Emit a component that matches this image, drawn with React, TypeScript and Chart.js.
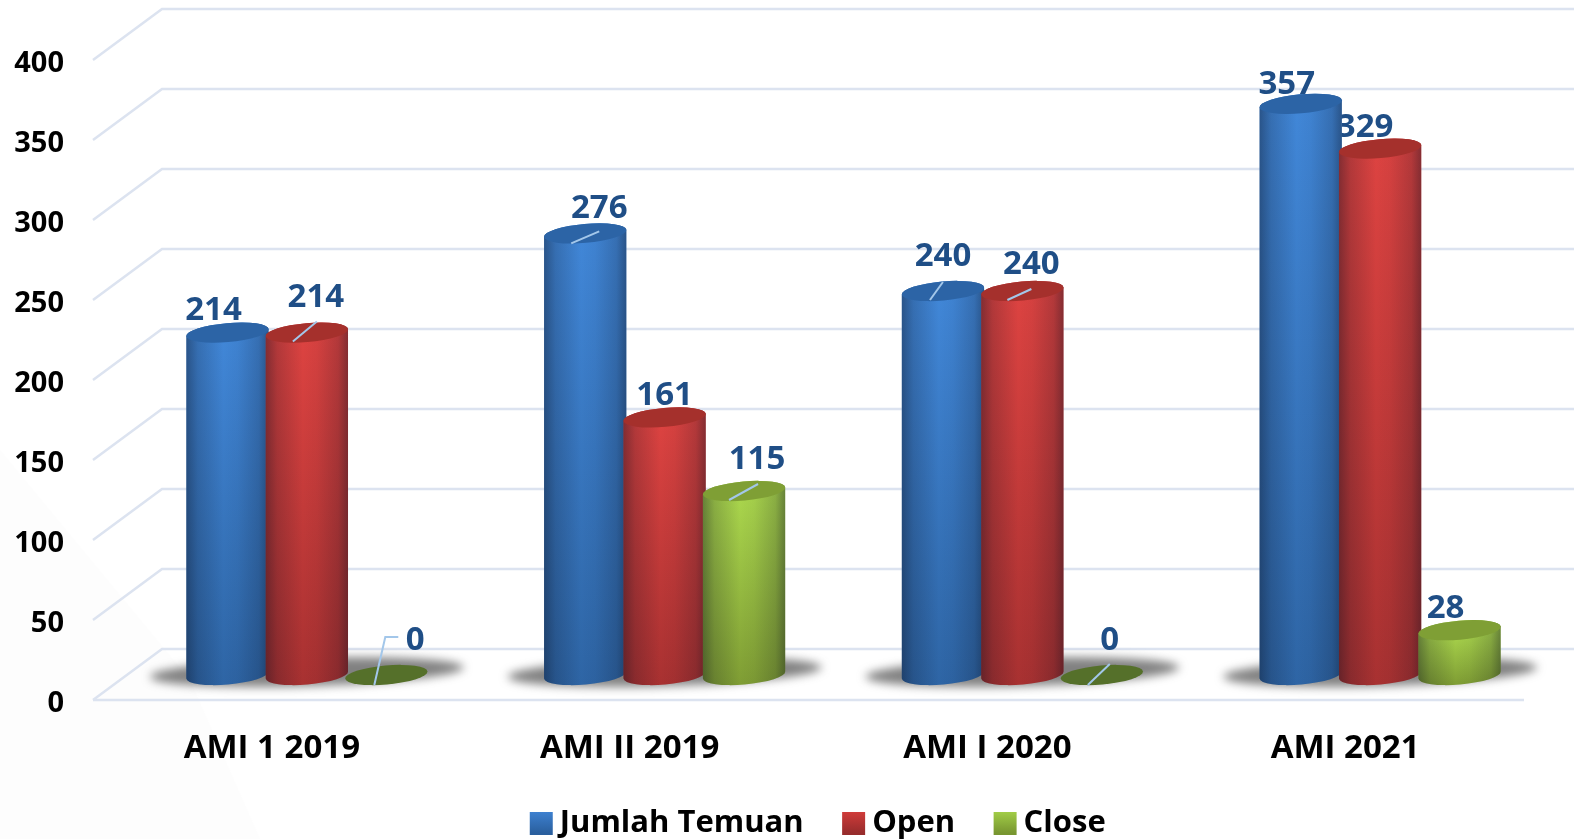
import React, { useEffect, useRef } from "react";
import { Chart, registerables } from "chart.js";

Chart.register(...registerables);

const categories = ["AMI 1 2019", "AMI II 2019", "AMI I 2020", "AMI 2021"];
const jumlahTemuan = [214, 276, 240, 357];
const open = [214, 161, 240, 329];
const close = [0, 115, 0, 28];
const yTicks = { min: 0, max: 400, stepSize: 50 };

const FONT = '"Open Sans", sans-serif';
const DEPTH_X = 35;
const DEPTH_Y = 25;
const BACK_X = 69;
const BACK_Y = 51;
const TILT = (-5 * Math.PI) / 180;
const RY = 9.5;

const palette = [
  { top: "#4187d8", bottom: "#2e65a5", lid: "#2c64a6", legendTop: "#3e82d2", legendBottom: "#2a5f9e" },
  { top: "#dd4341", bottom: "#a83131", lid: "#a5302c", legendTop: "#d23c3a", legendBottom: "#972c2c" },
  { top: "#abd74d", bottom: "#7f9d34", lid: "#7f9f35", legendTop: "#a3cf48", legendBottom: "#789630" },
];
const ZERO_LID = "#55702a";

// label offsets from each bar's top centre: [series][category]
const labelOffsets = [
  [[-14, -22], [14, -25], [0, -34], [-14, -19]],
  [[9, -35], [0, -22], [9, -26], [-15, -21]],
  [[29, -34], [13, -31], [8, -34], [-14, -22]],
];
// leader-line polylines, relative to each bar's top centre
const leaders: (number[][] | null)[][] = [
  [null, [[-14, 10], [14, -2]], [[-13, 9], [0, -9]], null],
  [[[-14, 9], [10, -11]], null, [[-15, 9], [9, -2]], null],
  [[[-12, 10], [-1, -38], [12, -38]], [[-15, 9], [14, -7]], [[-14, 10], [8, -11]], null],
];

function cylinder(ctx: CanvasRenderingContext2D, cx: number, topY: number, baseY: number, w: number, c: typeof palette[number]) {
  const rx = w / 2;
  const dx = rx * Math.cos(TILT);
  const path = () => {
    ctx.beginPath();
    ctx.ellipse(cx, topY, rx, RY, TILT, Math.PI, 2 * Math.PI);
    ctx.ellipse(cx, baseY, rx, RY, TILT, 0, Math.PI);
    ctx.closePath();
  };
  const v = ctx.createLinearGradient(0, topY, 0, baseY + RY);
  v.addColorStop(0, c.top);
  v.addColorStop(1, c.bottom);
  path();
  ctx.fillStyle = v;
  ctx.fill();
  const h = ctx.createLinearGradient(cx - dx, 0, cx + dx, 0);
  h.addColorStop(0, "rgba(10,15,30,0.42)");
  h.addColorStop(0.14, "rgba(10,15,30,0.2)");
  h.addColorStop(0.45, "rgba(10,15,30,0)");
  h.addColorStop(0.62, "rgba(10,15,30,0.04)");
  h.addColorStop(0.88, "rgba(10,15,30,0.2)");
  h.addColorStop(1, "rgba(10,15,30,0.42)");
  path();
  ctx.fillStyle = h;
  ctx.fill();
  ctx.beginPath();
  ctx.ellipse(cx, topY, rx, RY, TILT, 0, 2 * Math.PI);
  ctx.fillStyle = c.lid;
  ctx.fill();
}

const cylinderPlugin = {
  id: "cylinders",
  beforeDraw(chart: any) {
    const { ctx, width, height } = chart;
    ctx.save();
    ctx.fillStyle = "#ffffff";
    ctx.fillRect(0, 0, width, height);
    ctx.fillStyle = "#fdfdfd";
    ctx.beginPath();
    ctx.moveTo(0, 450);
    ctx.lineTo(190, 680);
    ctx.lineTo(260, 839);
    ctx.lineTo(0, 839);
    ctx.closePath();
    ctx.fill();
    ctx.restore();
  },
  beforeDatasetsDraw(chart: any) {
    const { ctx, width } = chart;
    const y = chart.scales.y;
    const x = chart.scales.x;
    ctx.save();
    // perspective grid
    ctx.strokeStyle = "#dce3f0";
    ctx.lineWidth = 2.5;
    const left = x.left;
    y.ticks.forEach((t: any) => {
      const py = y.getPixelForValue(t.value);
      ctx.beginPath();
      ctx.moveTo(left, py);
      ctx.lineTo(left + BACK_X, py - BACK_Y);
      ctx.lineTo(width, py - BACK_Y);
      ctx.stroke();
    });
    const y0 = y.getPixelForValue(0);
    ctx.beginPath();
    ctx.moveTo(left, y0);
    ctx.lineTo(x.right, y0);
    ctx.stroke();

    const metas = chart.data.datasets.map((_: any, i: number) => chart.getDatasetMeta(i));
    // floor shadows
    categories.forEach((_, ci) => {
      const cx = metas[1].data[ci].x + DEPTH_X;
      ctx.save();
      ctx.filter = "blur(5px)";
      ctx.translate(cx, y0 - DEPTH_Y - 3);
      ctx.rotate(-0.03);
      ctx.fillStyle = "rgba(80,80,80,0.72)";
      ctx.beginPath();
      ctx.ellipse(0, 0, 157, 14, 0, 0, 2 * Math.PI);
      ctx.fill();
      ctx.restore();
    });
    // value labels sit behind the columns
    ctx.font = `700 33px ${FONT}`;
    ctx.textAlign = "center";
    ctx.textBaseline = "middle";
    ctx.fillStyle = "#1f4e86";
    metas.forEach((meta: any, si: number) => {
      meta.data.forEach((el: any, ci: number) => {
        const [ox, oy] = labelOffsets[si][ci];
        const v = chart.data.datasets[si].data[ci];
        ctx.fillText(String(v), el.x + DEPTH_X + ox, el.y - DEPTH_Y + oy);
      });
    });
    // columns
    metas.forEach((meta: any, si: number) => {
      meta.data.forEach((el: any, ci: number) => {
        const v = chart.data.datasets[si].data[ci];
        const cx = el.x + DEPTH_X;
        const topY = el.y - DEPTH_Y;
        const baseY = el.base - DEPTH_Y;
        if (v === 0) {
          ctx.beginPath();
          ctx.ellipse(cx, baseY, el.width / 2, RY, TILT, 0, 2 * Math.PI);
          ctx.fillStyle = ZERO_LID;
          ctx.fill();
        } else {
          cylinder(ctx, cx, topY, baseY, el.width, palette[si]);
        }
      });
    });
    // leader lines
    ctx.strokeStyle = "#a3c7ea";
    ctx.lineWidth = 2;
    metas.forEach((meta: any, si: number) => {
      meta.data.forEach((el: any, ci: number) => {
        const line = leaders[si][ci];
        if (!line) return;
        const cx = el.x + DEPTH_X;
        const topY = el.y - DEPTH_Y;
        ctx.beginPath();
        line.forEach(([a, b], i) => (i ? ctx.lineTo(cx + a, topY + b) : ctx.moveTo(cx + a, topY + b)));
        ctx.stroke();
      });
    });
    ctx.restore();
    return false;
  },
  afterLayout(chart: any) {
    const lg = chart.legend;
    if (lg) {
      const h = lg.bottom - lg.top;
      lg.top = 761;
      lg.bottom = 761 + h;
      lg.left += 60;
      lg.right += 60;
    }
    // optical centring of the y tick text on its gridline
    const ys = chart.scales.y;
    const orig = ys._computeLabelItems.bind(ys);
    ys._computeLabelItems = (ca: any) =>
      orig(ca).map((it: any) => {
        const [tx, ty] = it.options.translation;
        return { ...it, options: { ...it.options, translation: [tx, ty + 4] } };
      });
    ys._labelItems = null;
  },
};

export default function App() {
  const ref = useRef<HTMLCanvasElement | null>(null);
  useEffect(() => {
    const chart = new Chart(ref.current!, {
      type: "bar",
      data: {
        labels: categories,
        datasets: [
          { label: "Jumlah Temuan", data: jumlahTemuan, backgroundColor: palette[0].top },
          { label: "Open", data: open, backgroundColor: palette[1].top },
          { label: "Close", data: close, backgroundColor: palette[2].top },
        ],
      },
      options: {
        responsive: false,
        animation: false,
        layout: { padding: { top: 60, right: 50, left: 0, bottom: -34 } },
        datasets: { bar: { categoryPercentage: 0.666, barPercentage: 1.04 } },
        plugins: {
          tooltip: { enabled: false },
          legend: {
            position: "bottom",
            labels: {
              usePointStyle: true,
              boxWidth: 6,
              boxHeight: 23,
              padding: 47,
              color: "#000000",
              font: { family: FONT, size: 31, weight: "700" },
              generateLabels(c: any) {
                return c.data.datasets.map((d: any, i: number) => {
                  const g = c.ctx.createLinearGradient(0, 811, 0, 833);
                  g.addColorStop(0, palette[i].legendTop);
                  g.addColorStop(1, palette[i].legendBottom);
                  return { text: d.label, fillStyle: g, strokeStyle: g, lineWidth: 0, pointStyle: "rect", datasetIndex: i, hidden: false };
                });
              },
            },
          },
        },
        scales: {
          x: {
            grid: { display: false, drawTicks: false },
            border: { display: false },
            ticks: { color: "#000000", padding: 29, font: { family: FONT, size: 33, weight: "700" }, maxRotation: 0 },
            afterFit(s: any) { s.height = 85; },
          },
          y: {
            min: yTicks.min,
            max: yTicks.max,
            grid: { display: false, drawTicks: false },
            border: { display: false },
            ticks: { stepSize: yTicks.stepSize, color: "#000000", padding: 29, font: { family: FONT, size: 29, weight: "700" } },
            afterFit(s: any) { s.width = 93; },
          },
        },
      },
      plugins: [cylinderPlugin],
    } as any);
    return () => chart.destroy();
  }, []);
  return (
    <canvas
      ref={ref}
      width={1574}
      height={839}
      style={{ position: "fixed", left: 0, top: 0, width: 1574, height: 839, display: "block" }}
    />
  );
}
